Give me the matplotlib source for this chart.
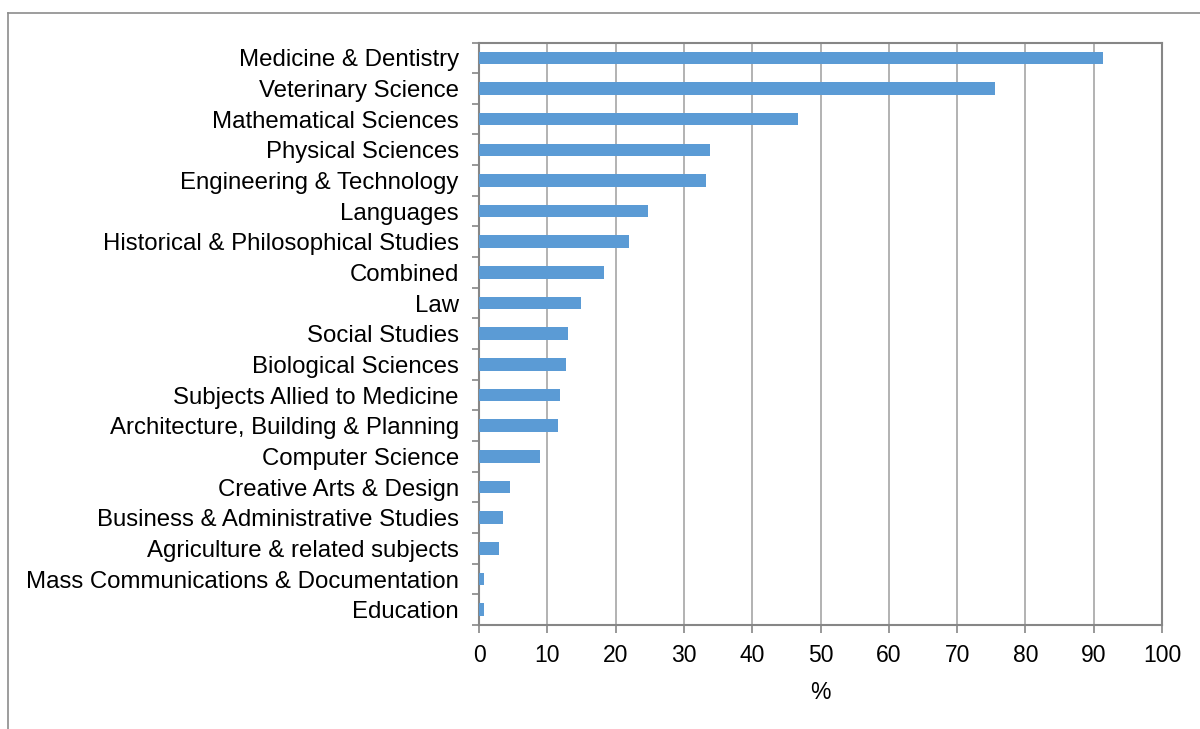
import matplotlib
matplotlib.use("Agg")
import matplotlib.pyplot as plt
from matplotlib.lines import Line2D
import numpy as np

categories = [
    "Medicine & Dentistry",
    "Veterinary Science",
    "Mathematical Sciences",
    "Physical Sciences",
    "Engineering & Technology",
    "Languages",
    "Historical & Philosophical Studies",
    "Combined",
    "Law",
    "Social Studies",
    "Biological Sciences",
    "Subjects Allied to Medicine",
    "Architecture, Building & Planning",
    "Computer Science",
    "Creative Arts & Design",
    "Business & Administrative Studies",
    "Agriculture & related subjects",
    "Mass Communications & Documentation",
    "Education",
]
values = [91.4, 75.5, 46.7, 33.8, 33.2, 24.7, 21.9, 18.3, 15.0, 13.1, 12.8,
          11.9, 11.6, 9.0, 4.6, 3.5, 2.9, 0.8, 0.7]
xticks = list(range(0, 101, 10))

plt.rcParams["font.family"] = ["Liberation Sans", "DejaVu Sans"]

fig = plt.figure(figsize=(12, 7.29), dpi=100)
ax = fig.add_axes([479 / 1200, 1 - 625 / 729, (1162 - 479) / 1200, (625 - 42.5) / 729])

n = len(categories)
pos = np.arange(n)
ax.barh(pos, values, height=0.41, color="#5B9BD5", zorder=3)

ax.set_ylim(n - 0.5, -0.5)
ax.set_xlim(0, 100)

ax.set_xticks(xticks)
ax.set_xticklabels([str(t) for t in xticks], fontsize=16.5)
ax.set_yticks(pos)
ax.set_yticklabels(categories, fontsize=17.3)
ax.set_yticks(np.arange(-0.5, n, 1.0), minor=True)

ax.tick_params(axis="y", which="major", length=0, pad=14.5)
ax.tick_params(axis="y", which="minor", length=5, width=1.2, color="#868686", direction="out")
ax.tick_params(axis="x", which="major", length=6, width=1.2, color="#868686", direction="out", pad=8)

ax.grid(axis="x", color="#A6A6A6", linewidth=1.2, zorder=0)
ax.set_axisbelow(True)
for s in ax.spines.values():
    s.set_color("#868686")
    s.set_linewidth(1.5)

ax.set_xlabel("%", fontsize=16.5, labelpad=10)

# outer chart-area frame
fig.add_artist(Line2D([8 / 1200, 8 / 1200], [0, 1 - 13 / 729], color="#8C8C8C", linewidth=1.2))
fig.add_artist(Line2D([8 / 1200, 1], [1 - 13 / 729, 1 - 13 / 729], color="#8C8C8C", linewidth=1.2))

fig.savefig("out.png", dpi=100)
